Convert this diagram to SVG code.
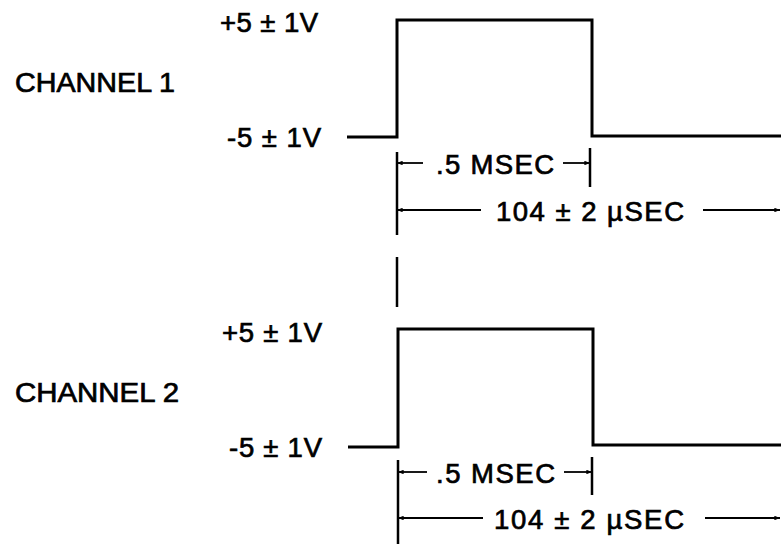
<svg xmlns="http://www.w3.org/2000/svg" width="781" height="544" viewBox="0 0 781 544">
  <defs>
    <style>
      text { font-family: "Liberation Sans", Arial, Helvetica, sans-serif; font-size: 27.5px; fill: #000; stroke: #000; stroke-width: 0.7; }
      .wave { fill: none; stroke: #000; stroke-width: 3; stroke-linejoin: miter; }
      .tick { fill: none; stroke: #000; stroke-width: 2.5; }
      .dim { fill: none; stroke: #000; stroke-width: 1.8; }
    </style>
    <marker id="arr" viewBox="0 0 10 8" refX="10" refY="4" markerWidth="6" markerHeight="4.5" markerUnits="userSpaceOnUse" orient="auto-start-reverse">
      <path d="M0,0 L10,4 L0,8 Z" fill="#000"/>
    </marker>
  </defs>
  <rect width="781" height="544" fill="#fff"/>

  <g id="channel1">
    <text x="15" y="92" textLength="160" lengthAdjust="spacingAndGlyphs">CHANNEL 1</text>
    <text x="220" y="32" textLength="98" lengthAdjust="spacing">+5 ± 1V</text>
    <text x="227" y="147" textLength="94" lengthAdjust="spacing">-5 ± 1V</text>
    <path class="wave" d="M347,137 H397 V20 H592 V136 H781"/>
  </g>

  <g id="channel2">
    <text x="15" y="402" textLength="164" lengthAdjust="spacingAndGlyphs">CHANNEL 2</text>
    <text x="222" y="342" textLength="100" lengthAdjust="spacing">+5 ± 1V</text>
    <text x="229" y="457" textLength="93" lengthAdjust="spacing">-5 ± 1V</text>
    <path class="wave" d="M348,447 H398 V329 H593 V445 H781"/>
  </g>

  <g id="connectors">
    <!-- channel 1 dimensions -->
    <path class="tick" d="M397,152 V235 M397,257 V307 M590,148 V187"/>
    <path class="dim" d="M423,163 H397" marker-end="url(#arr)"/>
    <path class="dim" d="M563,163 H590" marker-end="url(#arr)"/>
    <path class="dim" d="M481,210 H397" marker-end="url(#arr)"/>
    <path class="dim" d="M703,210 H780" marker-end="url(#arr)"/>
    <!-- channel 2 dimensions -->
    <path class="tick" d="M398,460 V544 M592,457 V495"/>
    <path class="dim" d="M427,472 H398" marker-end="url(#arr)"/>
    <path class="dim" d="M564,472 H592" marker-end="url(#arr)"/>
    <path class="dim" d="M483,518 H398" marker-end="url(#arr)"/>
    <path class="dim" d="M705,518 H780" marker-end="url(#arr)"/>
  </g>

  <g id="dim-labels">
    <text x="436" y="174" textLength="118" lengthAdjust="spacing">.5 MSEC</text>
    <text x="496" y="221" textLength="188" lengthAdjust="spacing">104 ± 2 µSEC</text>
    <text x="436" y="483" textLength="119" lengthAdjust="spacing">.5 MSEC</text>
    <text x="494" y="529" textLength="190" lengthAdjust="spacing">104 ± 2 µSEC</text>
  </g>
</svg>
